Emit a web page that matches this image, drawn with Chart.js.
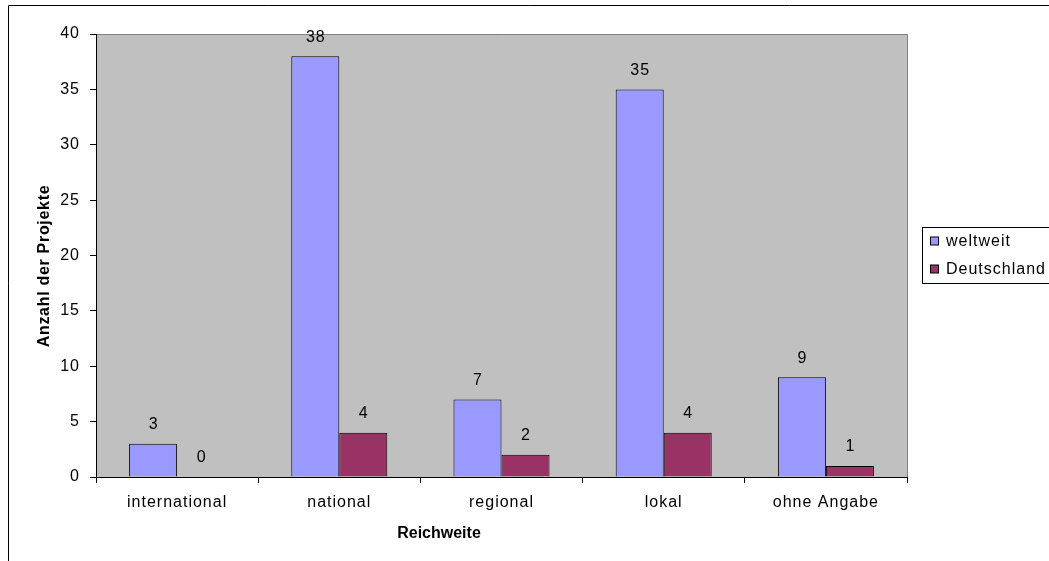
<!DOCTYPE html>
<html>
<head>
<meta charset="utf-8">
<script src="https://cdn.jsdelivr.net/npm/chart.js@4.4.1/dist/chart.umd.min.js"></script>
<style>
  html, body { margin: 0; padding: 0; background: #fff; }
  #wrap { width: 1049px; height: 561px; position: relative; }
</style>
</head>
<body>
<div id="wrap"><canvas id="c" width="1049" height="561"></canvas></div>
<script>
// Reichweite der Projekte
const categories = ['international', 'national', 'regional', 'lokal', 'ohne Angabe'];
const seriesNames = ['weltweit', 'Deutschland'];
const weltweit = [3, 38, 7, 35, 9];
const deutschland = [0, 4, 2, 4, 1];
const yTicks = [0, 5, 10, 15, 20, 25, 30, 35, 40];
const xTitle = 'Reichweite';
const yTitle = 'Anzahl der Projekte';

const FONT = '"Liberation Sans", Arial, Helvetica, sans-serif';
Chart.defaults.font.family = FONT;
Chart.defaults.color = '#000';

// slightly wider text spacing
const spacing = {
  id: 'spacing',
  beforeUpdate(chart) { chart.ctx.letterSpacing = '1px'; },
  beforeDraw(chart) { chart.ctx.letterSpacing = '1px'; }
};

// grey plot background and outer frame
const plotArea = {
  id: 'plotArea',
  beforeDraw(chart) {
    const { ctx, chartArea: a } = chart;
    ctx.save();
    ctx.fillStyle = '#ffffff';
    ctx.fillRect(0, 0, chart.width, chart.height);
    ctx.fillStyle = '#c0c0c0';
    ctx.fillRect(a.left, a.top, a.right - a.left, a.bottom - a.top);
    ctx.strokeStyle = '#000';
    ctx.lineWidth = 1;
    ctx.beginPath();
    ctx.moveTo(8.5, chart.height + 5);
    ctx.lineTo(8.5, 5.5);
    ctx.lineTo(chart.width + 5, 5.5);
    ctx.stroke();
    ctx.restore();
  },
  beforeDatasetsDraw(chart) {
    const { ctx, chartArea: a } = chart;
    ctx.save();
    ctx.strokeStyle = '#808080';
    ctx.lineWidth = 1;
    ctx.beginPath();
    ctx.moveTo(a.left + 1, Math.round(a.top) + 0.5);
    ctx.lineTo(Math.round(a.right) + 0.5, Math.round(a.top) + 0.5);
    ctx.lineTo(Math.round(a.right) + 0.5, a.bottom);
    ctx.stroke();
    ctx.restore();
  }
};

// axis titles, value labels above bars and boxed legend
const extras = {
  id: 'extras',
  afterDraw(chart) {
    const ctx = chart.ctx;
    ctx.save();
    ctx.fillStyle = '#000';
    ctx.textAlign = 'center';
    ctx.textBaseline = 'middle';

    // axis titles
    ctx.letterSpacing = '0px';
    ctx.font = 'bold 16px ' + FONT;
    ctx.fillText(xTitle, 439, 534);
    ctx.save();
    ctx.translate(45, 266);
    ctx.rotate(-Math.PI / 2);
    ctx.letterSpacing = '0.7px';
    ctx.fillText(yTitle, 0, 0);
    ctx.restore();

    // value labels
    ctx.letterSpacing = '1px';
    ctx.font = '16px ' + FONT;
    chart.data.datasets.forEach((ds, i) => {
      chart.getDatasetMeta(i).data.forEach((bar, j) => {
        ctx.fillText(String(ds.data[j]), bar.x + 0.5, bar.y - 19);
      });
    });

    // legend box
    const lx = 922.5, ly = 227.5, lh = 56;
    ctx.fillStyle = '#fff';
    ctx.fillRect(lx, ly, chart.width + 10 - lx, lh);
    ctx.strokeStyle = '#000';
    ctx.lineWidth = 1;
    ctx.strokeRect(lx, ly, chart.width + 10 - lx, lh);
    ctx.textAlign = 'left';
    ctx.font = '16px ' + FONT;
    chart.data.datasets.forEach((ds, i) => {
      const cy = 241.5 + i * 28;
      ctx.fillStyle = ds.backgroundColor;
      ctx.fillRect(930.5, cy - 4.5, 8, 8);
      ctx.strokeStyle = '#000';
      ctx.strokeRect(930.5, cy - 4.5, 8, 8);
      ctx.fillStyle = '#000';
      ctx.fillText(ds.label, 946, cy);
    });
    ctx.restore();
  }
};

new Chart(document.getElementById('c'), {
  type: 'bar',
  data: {
    labels: categories,
    datasets: [
      { label: seriesNames[0], data: weltweit, backgroundColor: '#9999ff', borderColor: '#000', borderWidth: 1 },
      { label: seriesNames[1], data: deutschland, backgroundColor: '#993366', borderColor: '#000', borderWidth: 1 }
    ]
  },
  options: {
    responsive: false,
    animation: false,
    devicePixelRatio: 1,
    layout: { padding: { left: 0, right: 142, top: 34, bottom: 0 } },
    datasets: { bar: { categoryPercentage: 0.592, barPercentage: 1.0 } },
    plugins: { legend: { display: false }, tooltip: { enabled: false } },
    scales: {
      x: {
        grid: { drawOnChartArea: false, drawTicks: true, tickLength: 6, color: '#000', offset: true },
        border: { display: true, color: '#000', width: 1 },
        ticks: { font: { size: 16 }, padding: 10, color: '#000', maxRotation: 0 },
        title: { display: false, text: xTitle },
        afterFit(s) { s.height = 84; }
      },
      y: {
        min: yTicks[0],
        max: yTicks[yTicks.length - 1],
        afterBuildTicks(s) { s.ticks = yTicks.map(v => ({ value: v })); },
        grid: { drawOnChartArea: false, drawTicks: true, tickLength: 6, color: '#000' },
        border: { display: true, color: '#000', width: 1 },
        ticks: { font: { size: 16 }, padding: 10, color: '#000' },
        title: { display: false, text: yTitle },
        afterFit(s) { s.width = 96; }
      }
    }
  },
  plugins: [spacing, plotArea, extras]
});
</script>
</body>
</html>
